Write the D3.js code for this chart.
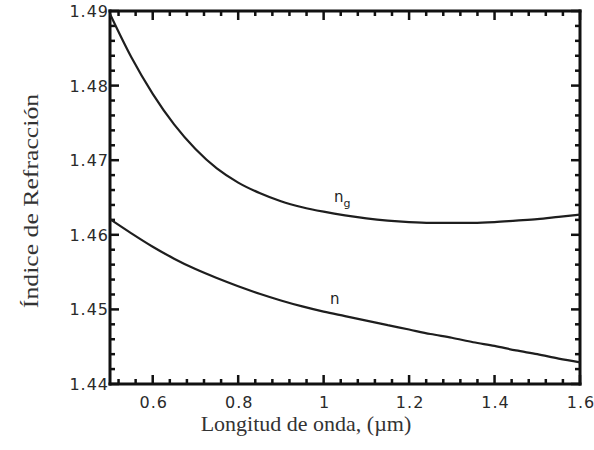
<!doctype html>
<html><head><meta charset="utf-8"/>
<title>Índice de Refracción</title>
<style>
  body { margin:0; background:#fff; }
  svg { display:block; }
  .tick-label { font-family:"DejaVu Sans",sans-serif; font-size:16px; letter-spacing:1px; fill:#2a2a2a; }
  .axis-title { font-family:"Liberation Serif","Times New Roman",serif; fill:#333; }
  .lab { font-family:"DejaVu Sans",sans-serif; font-size:15px; fill:#1e1e1e; }
</style>
</head><body>
<svg id="g" width="594" height="450"></svg>
<script src="https://cdn.jsdelivr.net/npm/d3@7"></script>
<script>
// wavelength (um) and the two read-off curves
const lambda = [0.50,0.55,0.60,0.65,0.70,0.75,0.80,0.85,0.90,0.95,1.00,1.05,1.10,1.15,1.20,1.25,1.30,1.35,1.40,1.45,1.50,1.55,1.60];
const ngValues = [1.4896,1.4838,1.4789,1.4748,1.4715,1.4689,1.4670,1.4656,1.4645,1.4637,1.4631,1.4626,1.4622,1.4619,1.4617,1.4616,1.4616,1.4616,1.4617,1.4619,1.4621,1.4624,1.4627];
const nValues  = [1.4621,1.4602,1.4584,1.4568,1.4554,1.4542,1.4531,1.4521,1.4512,1.4504,1.4497,1.4491,1.4485,1.4479,1.4473,1.4467,1.4462,1.4456,1.4451,1.4445,1.4440,1.4434,1.4429];
const xTicks = [0.6,0.8,1.0,1.2,1.4,1.6];
const yTicks = [1.44,1.45,1.46,1.47,1.48,1.49];
const xTitle = "Longitud de onda, (µm)";
const yTitle = "Índice de Refracción";

const svg = d3.select('#g');
const x = d3.scaleLinear().domain([0.5, 1.6]).range([110, 580]);
const y = d3.scaleLinear().domain([1.44, 1.49]).range([384, 11]);
const [x0, x1] = x.range();
const [y0, y1] = y.range();

// minor ticks (every 0.04 on x, 0.002 on y)
const xMinor = d3.range(0.52, 1.6, 0.04).filter(v => !xTicks.some(t => Math.abs(t - v) < 1e-6));
const yMinor = d3.range(1.442, 1.49, 0.002).filter(v => !yTicks.some(t => Math.abs(t - v) < 1e-6));

// ticks drawn as small filled bars, inward on all four sides
const tw = 2.5;
const tickG = svg.append('g').attr('fill', '#111');
const xt = (v, len) => {
  tickG.append('rect').attr('x', x(v) - tw / 2).attr('y', y0 - len).attr('width', tw).attr('height', len);
  tickG.append('rect').attr('x', x(v) - tw / 2).attr('y', y1).attr('width', tw).attr('height', len);
};
const yt = (v, len) => {
  tickG.append('rect').attr('x', x0).attr('y', y(v) - tw / 2).attr('width', len).attr('height', tw);
  tickG.append('rect').attr('x', x1 - len).attr('y', y(v) - tw / 2).attr('width', len).attr('height', tw);
};
xMinor.forEach(v => xt(v, 5));
xTicks.forEach(v => xt(v, 9));
yMinor.forEach(v => yt(v, 5));
yTicks.forEach(v => yt(v, 9));

// frame as four filled bars
const fw = 3;
tickG.append('rect').attr('x', x0 - fw / 2).attr('y', y1 - fw / 2).attr('width', x1 - x0 + fw).attr('height', fw);
tickG.append('rect').attr('x', x0 - fw / 2).attr('y', y0 - fw / 2).attr('width', x1 - x0 + fw).attr('height', fw);
tickG.append('rect').attr('x', x0 - fw / 2).attr('y', y1 - fw / 2).attr('width', fw).attr('height', y0 - y1 + fw);
tickG.append('rect').attr('x', x1 - fw / 2).attr('y', y1 - fw / 2).attr('width', fw).attr('height', y0 - y1 + fw);

// tick labels
svg.append('g').selectAll('text').data(xTicks).enter().append('text')
  .attr('class','tick-label').attr('x', d => x(d) + 1).attr('y', y0 + 24)
  .attr('text-anchor','middle').text(d => d === 1 ? '1' : d3.format('.1f')(d));
svg.append('g').selectAll('text').data(yTicks).enter().append('text')
  .attr('class','tick-label').attr('x', x0 - 1).attr('y', d => y(d) + 6)
  .attr('text-anchor','end').text(d => d3.format('.2f')(d));

// axis titles
svg.append('text').attr('class','axis-title').attr('font-size', 22)
  .attr('x', 306).attr('y', 431).attr('text-anchor','middle').text(xTitle);
svg.append('text').attr('class','axis-title').attr('font-size', 22)
  .attr('transform','translate(38,201) rotate(-90) scale(1.17,1)')
  .attr('text-anchor','middle').text(yTitle);

// curves
const line = vals => d3.line().x((d, i) => x(lambda[i])).y(d => y(d)).curve(d3.curveMonotoneX)(vals);
[ngValues, nValues].forEach(vals => {
  svg.append('path').attr('d', line(vals))
    .attr('fill', 'none').attr('stroke', '#1e1e1e').attr('stroke-width', 2.2);
});

// curve labels
const ngLab = svg.append('text').attr('class','lab').attr('x', 334).attr('y', 202);
ngLab.append('tspan').text('n');
ngLab.append('tspan').attr('font-size', 11).attr('dy', 5).text('g');
svg.append('text').attr('class','lab').attr('x', 330).attr('y', 304).text('n');
</script>
</body></html>
